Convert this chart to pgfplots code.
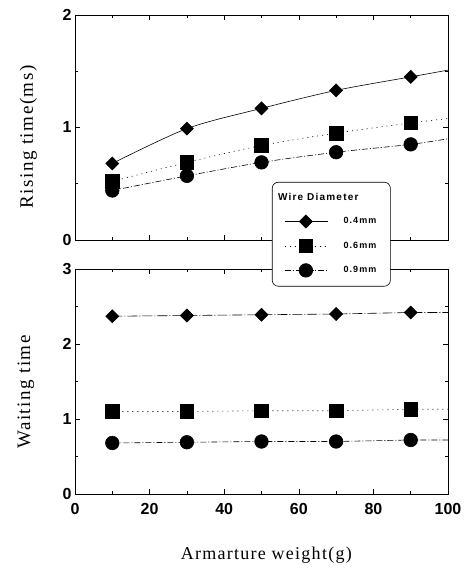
\documentclass[border=0pt]{standalone}
\usepackage{fontspec}
\setmainfont{Liberation Serif}
\setsansfont{Liberation Sans}
\usepackage{pgfplots}
\pgfplotsset{compat=1.18}
\begin{document}
\begin{tikzpicture}
\useasboundingbox (-75pt,-76pt) rectangle (393pt,494pt);
\pgfplotsset{
 common/.style={
  width=373pt, height=225pt, scale only axis,
  xmin=0, xmax=100,
  xtick={0,20,...,100}, minor x tick num=1,
  minor y tick num=1,
  tick style={black, line width=0.5pt},
  major tick length=5pt, minor tick length=3pt,
  tick label style={font=\fontsize{16}{18}\selectfont\sffamily\bfseries},
  /pgf/number format/assume math mode=true,
  axis line style={line width=0.6pt},
  label style={font=\fontsize{18}{20}\selectfont\addfontfeatures{LetterSpace=7}},
  every axis plot/.append style={black, line width=0.6pt},
  mark indices={1,2,3,4,5},
 },
 dia/.style={mark=square*, mark size=4.6pt, mark options={rotate=45, solid}},
 sq/.style={mark=square*, mark size=6.8pt, mark options={solid}},
 ci/.style={mark=*, mark size=6.8pt, mark options={solid}},
}
% ---- bottom axis: waiting time
\begin{axis}[common, at={(0pt,0pt)}, anchor=south west,
  ymin=0, ymax=3, ytick={0,1,2,3},
  xlabel={Armarture weight(g)}, ylabel={Waiting time},
  xticklabel style={yshift=-6pt},
  xlabel style={at={(axis description cs:0.513,-0.271)}, anchor=center},
  ylabel style={at={(axis description cs:-0.132,0.453)}, anchor=center,
    font=\fontsize{19}{21}\selectfont\addfontfeatures{LetterSpace=8}},
]
\addplot[dia, dash pattern=on 10pt off 2pt on 1pt off 2pt] coordinates {(10,2.37)(30,2.38)(50,2.39)(70,2.40)(90,2.42)(100,2.42)};
\addplot[sq, dash pattern=on 1pt off 4pt] coordinates {(10,1.10)(30,1.10)(50,1.11)(70,1.11)(90,1.13)(100,1.13)};
\addplot[ci, dash pattern=on 6pt off 2pt on 1pt off 2pt] coordinates {(10,0.68)(30,0.69)(50,0.70)(70,0.70)(90,0.72)(100,0.72)};
\end{axis}
% ---- top axis: rising time
\begin{axis}[common, at={(0pt,254pt)}, anchor=south west,
  ymin=0, ymax=2, ytick={0,1,2},
  xticklabels={},
  ylabel={Rising time(ms)},
  ylabel style={at={(axis description cs:-0.125,0.458)}, anchor=center,
    font=\fontsize{19}{21}\selectfont\addfontfeatures{LetterSpace=8}},
  legend style={at={(rel axis cs:0.528,0.258)}, anchor=north west,
    draw=black, rounded corners=6pt, fill=white, line width=0.6pt,
    font=\fontsize{9}{11}\selectfont\sffamily\bfseries\addfontfeatures{LetterSpace=12},
    row sep=11pt, inner xsep=12pt, inner ysep=9pt,
    /tikz/every odd column/.append style={column sep=14pt}},
  legend cell align=left,
  legend image code/.code={\draw[mark indices={2}] plot coordinates {(0cm,0cm)(0.75cm,0cm)(1.5cm,0cm)};},
]
\addlegendimage{empty legend}
\addlegendentry{\hspace*{-2.3cm}\fontsize{10}{12}\selectfont Wire Diameter}
\addplot[dia, smooth] coordinates {(10,0.68)(30,0.99)(50,1.17)(70,1.33)(90,1.45)(100,1.51)};
\addlegendentry{0.4mm}
\addplot[sq, smooth, dash pattern=on 1pt off 4pt] coordinates {(10,0.52)(30,0.69)(50,0.84)(70,0.95)(90,1.04)(100,1.08)};
\addlegendentry{0.6mm}
\addplot[ci, smooth, dash pattern=on 6pt off 2pt on 1pt off 2pt] coordinates {(10,0.44)(30,0.57)(50,0.69)(70,0.78)(90,0.85)(100,0.90)};
\addlegendentry{0.9mm}
\end{axis}
\end{tikzpicture}
\end{document}
